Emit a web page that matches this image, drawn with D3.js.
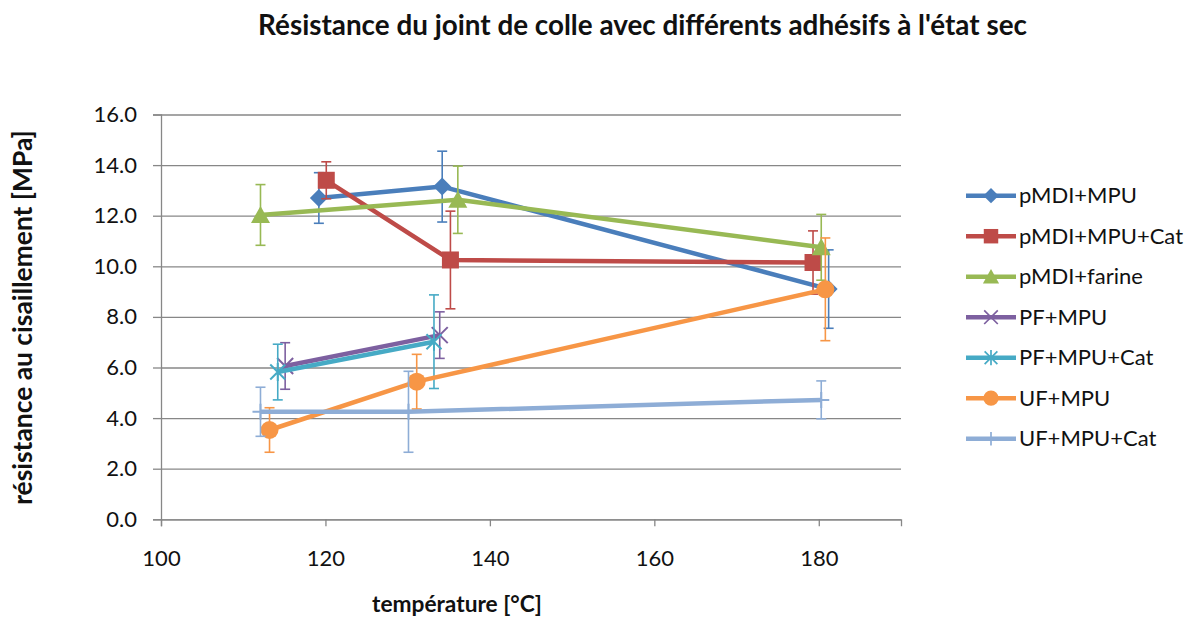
<!DOCTYPE html>
<html><head><meta charset="utf-8">
<script src="https://cdn.jsdelivr.net/npm/d3@7"></script>
<style>body{margin:0;background:#fff;} svg{display:block;font-family:Lato,'Open Sans',sans-serif;}</style>
</head><body><svg id="c" width="1196" height="619"></svg>
<script>
const chartTitle = "Résistance du joint de colle avec différents adhésifs à l'état sec";
const xTitle = "température [°C]";
const yTitle = "résistance  au cisaillement [MPa]";
const xTicks = [100, 120, 140, 160, 180];
const yTicks = [0, 2, 4, 6, 8, 10, 12, 14, 16];
const seriesNames = ["pMDI+MPU", "pMDI+MPU+Cat", "pMDI+farine", "PF+MPU", "PF+MPU+Cat", "UF+MPU", "UF+MPU+Cat"];
const seriesColors = ["#4A7EBB", "#BE4B48", "#98B954", "#7D60A0", "#46AAC5", "#F79646", "#8EADD6"];
const seriesMarkers = ["diamond", "square", "triangle", "x", "star", "circle", "plus"];

// temperature [°C], resistance [MPa], error [MPa]
const temp_pMDI_MPU = [119.2, 134.2, 181.2];
const res_pMDI_MPU = [12.7, 13.15, 9.1];
const err_pMDI_MPU = [1.0, 1.4, 1.55];

const temp_pMDI_MPU_Cat = [120.1, 135.2, 179.3];
const res_pMDI_MPU_Cat = [13.4, 10.25, 10.15];
const err_pMDI_MPU_Cat = [0.73, 1.93, 1.25];

const temp_pMDI_farine = [112.1, 136.1, 180.3];
const res_pMDI_farine = [12.03, 12.63, 10.75];
const err_pMDI_farine = [1.2, 1.33, 1.3];

const temp_PF_MPU = [115.1, 133.9];
const res_PF_MPU = [6.06, 7.28];
const err_PF_MPU = [0.92, 0.92];

const temp_PF_MPU_Cat = [114.2, 133.2];
const res_PF_MPU_Cat = [5.82, 7.02];
const err_PF_MPU_Cat = [1.1, 1.85];

const temp_UF_MPU = [113.2, 131.1, 180.8];
const res_UF_MPU = [3.53, 5.44, 9.09];
const err_UF_MPU = [0.88, 1.08, 2.03];

const temp_UF_MPU_Cat = [112.1, 130.1, 180.3];
const res_UF_MPU_Cat = [4.25, 4.25, 4.72];
const err_UF_MPU_Cat = [0.97, 1.6, 0.75];

const seriesTemps = [temp_pMDI_MPU, temp_pMDI_MPU_Cat, temp_pMDI_farine, temp_PF_MPU, temp_PF_MPU_Cat, temp_UF_MPU, temp_UF_MPU_Cat];
const seriesRes = [res_pMDI_MPU, res_pMDI_MPU_Cat, res_pMDI_farine, res_PF_MPU, res_PF_MPU_Cat, res_UF_MPU, res_UF_MPU_Cat];
const seriesErr = [err_pMDI_MPU, err_pMDI_MPU_Cat, err_pMDI_farine, err_PF_MPU, err_PF_MPU_Cat, err_UF_MPU, err_UF_MPU_Cat];

const svg = d3.select("#c");
const gridColor = "#878787";
const textColor = "#111";
const x = d3.scaleLinear().domain([100, 190]).range([161, 901]);
const y = d3.scaleLinear().domain([0, 16]).range([519.3, 114.5]);

function fitWidth(sel, target) {
  const w = sel.node().getComputedTextLength();
  const fs = parseFloat(sel.attr("font-size"));
  const nfs = fs * target / w;
  sel.attr("font-size", nfs);
  return nfs;
}

// gridlines
const grid = svg.append("g").attr("transform", `translate(${x(100)},0)`)
  .call(d3.axisLeft(y).tickValues(yTicks).tickSize(-(x(190) - x(100))).tickFormat(""));
grid.select(".domain").remove();
grid.selectAll("line").attr("stroke", gridColor).attr("stroke-width", 1.3);

// y axis
const ya = svg.append("g").attr("transform", `translate(${x(100)},0)`)
  .call(d3.axisLeft(y).tickValues(yTicks).tickSize(8).tickPadding(16).tickFormat(d3.format(".1f")));
ya.select(".domain").attr("stroke", gridColor).attr("stroke-width", 1.3);
ya.selectAll("line").attr("stroke", gridColor).attr("stroke-width", 1.3);
ya.selectAll("text").attr("fill", textColor).attr("font-family", "Lato").attr("font-size", 22);

// x axis
const xa = svg.append("g").attr("transform", `translate(0,${y(0)})`)
  .call(d3.axisBottom(x).tickValues(xTicks).tickSize(7).tickPadding(24).tickFormat(d3.format("d")));
xa.select(".domain").attr("stroke", gridColor).attr("stroke-width", 1.3);
xa.selectAll("line").attr("stroke", gridColor).attr("stroke-width", 1.3);
xa.selectAll("text").attr("fill", textColor).attr("font-family", "Lato").attr("font-size", 22);

// markers
function drawMarker(g, type, cx, cy, color, s) {
  s = s || 1;
  const m = g.append("g").attr("transform", `translate(${cx},${cy}) scale(${s})`);
  if (type === "diamond") {
    m.append("path").attr("d", "M0,-9L9,0L0,9L-9,0Z").attr("fill", color);
  } else if (type === "square") {
    m.append("rect").attr("x", -8.5).attr("y", -8.5).attr("width", 17).attr("height", 17).attr("fill", color);
  } else if (type === "triangle") {
    m.append("path").attr("d", "M0,-9L9.5,8L-9.5,8Z").attr("fill", color);
  } else if (type === "circle") {
    m.append("circle").attr("r", 9).attr("fill", color);
  } else if (type === "x") {
    m.append("path").attr("d", "M-8,-8L8,8M-8,8L8,-8").attr("stroke", color).attr("stroke-width", 2).attr("fill", "none");
  } else if (type === "star") {
    m.append("path").attr("d", "M-7.5,-7.5L7.5,7.5M-7.5,7.5L7.5,-7.5M0,-9L0,9").attr("stroke", color).attr("stroke-width", 2).attr("fill", "none");
  } else if (type === "plus") {
    m.append("path").attr("d", "M0,-8L0,8M-8,0L8,0").attr("stroke", color).attr("stroke-width", 2).attr("fill", "none");
  }
}

const line = d3.line().x(d => x(d[0])).y(d => y(d[1]));
seriesNames.forEach((name, i) => {
  const color = seriesColors[i];
  const pts = seriesTemps[i].map((t, j) => [t, seriesRes[i][j], seriesErr[i][j]]);
  const g = svg.append("g");
  g.append("path").datum(pts).attr("d", line).attr("fill", "none")
    .attr("stroke", color).attr("stroke-width", 4.5).attr("stroke-linejoin", "round");
  pts.forEach(p => {
    const px = x(p[0]), y1 = y(p[1] - p[2]), y2 = y(p[1] + p[2]);
    g.append("line").attr("x1", px).attr("x2", px).attr("y1", y1).attr("y2", y2).attr("stroke", color).attr("stroke-width", 1.6);
    g.append("line").attr("x1", px - 5).attr("x2", px + 5).attr("y1", y1).attr("y2", y1).attr("stroke", color).attr("stroke-width", 1.6);
    g.append("line").attr("x1", px - 5).attr("x2", px + 5).attr("y1", y2).attr("y2", y2).attr("stroke", color).attr("stroke-width", 1.6);
  });
  pts.forEach(p => drawMarker(g, seriesMarkers[i], x(p[0]), y(p[1]), color));
});

// legend
const leg = svg.append("g");
const legFs = 22;
seriesNames.forEach((name, i) => {
  const cy = 195.7 + 40.5 * i;
  const color = seriesColors[i];
  leg.append("line").attr("x1", 966).attr("x2", 1016).attr("y1", cy).attr("y2", cy)
    .attr("stroke", color).attr("stroke-width", 4.5);
  drawMarker(leg, seriesMarkers[i], 991, cy, color, 0.85);
  leg.append("text").attr("x", 1019).attr("y", cy).attr("dy", "0.35em")
    .attr("font-size", legFs).attr("fill", textColor).text(name);
});

// titles
svg.append("text").attr("x", 642.5).attr("y", 35).attr("text-anchor", "middle")
  .attr("font-weight", "bold").attr("font-size", 26).attr("fill", textColor).text(chartTitle)
  .call(s => fitWidth(s, 769));
svg.append("text").attr("x", 457).attr("y", 612).attr("text-anchor", "middle")
  .attr("font-weight", "bold").attr("font-size", 20).attr("fill", textColor).text(xTitle)
  .call(s => fitWidth(s, 170));
svg.append("text").attr("transform", "translate(32,317.5) rotate(-90)").attr("text-anchor", "middle")
  .attr("font-weight", "bold").attr("font-size", 20).attr("fill", textColor).text(yTitle)
  .call(s => fitWidth(s, 375));
</script>
</body></html>
